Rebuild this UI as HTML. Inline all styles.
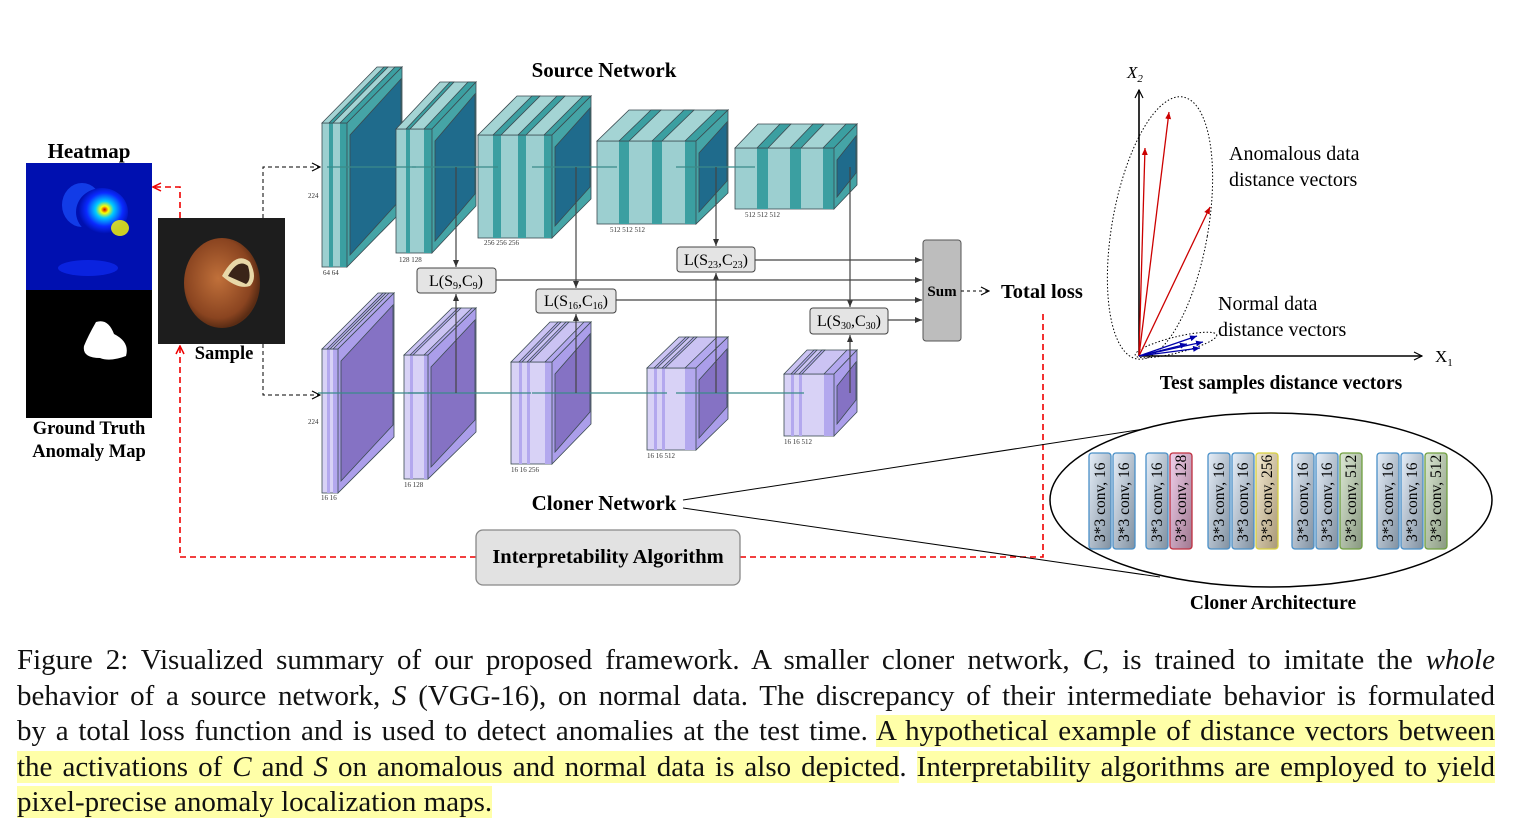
<!DOCTYPE html>
<html><head><meta charset="utf-8"><style>
body{margin:0;background:#fff;width:1515px;height:824px;overflow:hidden;position:relative;font-family:"Liberation Serif",serif}
#cap{position:absolute;left:17px;top:643px;width:1478px;font-size:29px;line-height:35.6px;color:#111}
#cap div{text-align:justify;text-align-last:justify;white-space:nowrap}
.h{background:#ffffa8}
</style></head><body>
<svg id="s" width="1515" height="640" style="position:absolute;left:0;top:0" font-family="Liberation Serif, serif">
<defs>
<radialGradient id="hm" cx="0.55" cy="0.45" r="0.5"><stop offset="0" stop-color="#c00"/><stop offset="0.15" stop-color="#ff0"/><stop offset="0.35" stop-color="#0cf"/><stop offset="0.7" stop-color="#0a2aff"/><stop offset="1" stop-color="#0010b0"/></radialGradient>
<radialGradient id="nut" cx="0.45" cy="0.45" r="0.55"><stop offset="0" stop-color="#c0703a"/><stop offset="0.8" stop-color="#8a4420"/><stop offset="1" stop-color="#5a2c14"/></radialGradient>
<linearGradient id="gb" x1="0" y1="0" x2="1" y2="1"><stop offset="0" stop-color="#e6eef8"/><stop offset="1" stop-color="#8090a0"/></linearGradient>
<linearGradient id="gr" x1="0" y1="0" x2="1" y2="1"><stop offset="0" stop-color="#f0d0ec"/><stop offset="1" stop-color="#a07890"/></linearGradient>
<linearGradient id="gy" x1="0" y1="0" x2="1" y2="1"><stop offset="0" stop-color="#f4ead0"/><stop offset="1" stop-color="#a89878"/></linearGradient>
<linearGradient id="gg" x1="0" y1="0" x2="1" y2="1"><stop offset="0" stop-color="#dce8d4"/><stop offset="1" stop-color="#889880"/></linearGradient>
<marker id="ak" markerWidth="10" markerHeight="10" refX="9" refY="5" orient="auto" markerUnits="userSpaceOnUse"><path d="M1,1 L9,5 L1,9" fill="none" stroke="#000" stroke-width="1.2"/></marker>
<marker id="ar" markerWidth="10" markerHeight="10" refX="9" refY="5" orient="auto" markerUnits="userSpaceOnUse"><path d="M1,1 L9,5 L1,9" fill="none" stroke="#e00" stroke-width="1.5"/></marker>
<marker id="as" markerWidth="8" markerHeight="8" refX="7" refY="4" orient="auto" markerUnits="userSpaceOnUse"><path d="M0,1 L7,4 L0,7z" fill="#333"/></marker>
<marker id="red" markerWidth="8" markerHeight="8" refX="7" refY="4" orient="auto" markerUnits="userSpaceOnUse"><path d="M0,1 L7,4 L0,7z" fill="#c00"/></marker>
<marker id="blu" markerWidth="8" markerHeight="8" refX="7" refY="4" orient="auto" markerUnits="userSpaceOnUse"><path d="M0,1 L7,4 L0,7z" fill="#00a"/></marker>
</defs>
<rect x="26" y="163" width="126" height="127" fill="#0010b0"/>
<ellipse cx="82" cy="205" rx="20" ry="22" fill="#1a50ff" opacity="0.7"/>
<ellipse cx="102" cy="212" rx="26" ry="24" fill="url(#hm)"/>
<ellipse cx="120" cy="228" rx="9" ry="8" fill="#ff0" opacity="0.8"/>
<ellipse cx="88" cy="268" rx="30" ry="8" fill="#1030ff" opacity="0.6"/>
<rect x="26" y="290" width="126" height="128" fill="#000"/>
<path d="M96,322 Q108,318 114,334 Q130,342 126,356 Q110,362 100,358 Q82,358 84,346 Q88,336 96,322z" fill="#fff"/>
<rect x="158" y="218" width="127" height="126" fill="#1d1d1d"/>
<ellipse cx="222" cy="283" rx="38" ry="45" fill="url(#nut)"/>
<path d="M222,276 Q236,250 250,262 Q258,278 250,286 Q238,290 222,276z" fill="#e8d8a8"/>
<path d="M228,276 Q238,258 248,266 Q252,280 246,284z" fill="#3a2418"/>
<g font-weight="bold" text-anchor="middle">
<text x="89" y="158" font-size="21">Heatmap</text>
<text x="89" y="434" font-size="18.5">Ground Truth</text>
<text x="89" y="457" font-size="18.5">Anomaly Map</text>
<text x="224" y="359" font-size="18.5">Sample</text>
<text x="604" y="77" font-size="21">Source Network</text>
<text x="604" y="510" font-size="21">Cloner Network</text>
</g>
<path d="M263,218 V167 H320" fill="none" stroke="#000" stroke-dasharray="4,3" marker-end="url(#ak)"/>
<path d="M263,344 V395 H320" fill="none" stroke="#000" stroke-dasharray="4,3" marker-end="url(#ak)"/>
<path d="M180,218 V187 H153" fill="none" stroke="#e00" stroke-width="1.6" stroke-dasharray="6,4" marker-end="url(#ar)"/>
<path d="M476,557 H180 V346" fill="none" stroke="#e00" stroke-width="1.6" stroke-dasharray="6,4" marker-end="url(#ar)"/>
<path d="M740,557 H1043 V310" fill="none" stroke="#e00" stroke-width="1.6" stroke-dasharray="6,4"/>
<rect x="476" y="530" width="264" height="55" rx="7" fill="#e2e2e2" stroke="#888" stroke-width="1.3"/>
<text x="608" y="563" font-size="20.5" font-weight="bold" text-anchor="middle">Interpretability Algorithm</text>
<g id="blocks"></g>
<g stroke="#444" stroke-width="1.2" fill="none">
<path d="M456,167 V267" marker-end="url(#as)"/><path d="M456,393 V294" marker-end="url(#as)"/>
<path d="M576,167 V288" marker-end="url(#as)"/><path d="M576,393 V314" marker-end="url(#as)"/>
<path d="M716,167 V246" marker-end="url(#as)"/><path d="M716,393 V273" marker-end="url(#as)"/>
<path d="M850,167 V307" marker-end="url(#as)"/><path d="M850,393 V335" marker-end="url(#as)"/>
<path d="M755,260 H922" marker-end="url(#as)"/><path d="M496,280 H922" marker-end="url(#as)"/>
<path d="M616,300 H922" marker-end="url(#as)"/><path d="M888,320 H922" marker-end="url(#as)"/>
</g>
<g font-size="16" text-anchor="middle">
<rect x="417" y="268" width="79" height="25" rx="3" fill="#e4e4e4" stroke="#444"/><text x="456" y="286">L(S<tspan font-size="10" dy="3">9</tspan><tspan dy="-3">,C</tspan><tspan font-size="10" dy="3">9</tspan><tspan dy="-3">)</tspan></text>
<rect x="536" y="289" width="80" height="24" rx="3" fill="#e4e4e4" stroke="#444"/><text x="576" y="306">L(S<tspan font-size="10" dy="3">16</tspan><tspan dy="-3">,C</tspan><tspan font-size="10" dy="3">16</tspan><tspan dy="-3">)</tspan></text>
<rect x="677" y="247" width="78" height="25" rx="3" fill="#e4e4e4" stroke="#444"/><text x="716" y="265">L(S<tspan font-size="10" dy="3">23</tspan><tspan dy="-3">,C</tspan><tspan font-size="10" dy="3">23</tspan><tspan dy="-3">)</tspan></text>
<rect x="810" y="308" width="78" height="26" rx="3" fill="#e4e4e4" stroke="#444"/><text x="849" y="326">L(S<tspan font-size="10" dy="3">30</tspan><tspan dy="-3">,C</tspan><tspan font-size="10" dy="3">30</tspan><tspan dy="-3">)</tspan></text>
</g>
<rect x="923" y="240" width="38" height="101" rx="3" fill="#bdbdbd" stroke="#555"/>
<text x="942" y="296" font-size="15" font-weight="bold" text-anchor="middle">Sum</text>
<path d="M961,291 H989" stroke="#000" stroke-dasharray="3,3" marker-end="url(#ak)"/>
<text x="1001" y="298" font-size="20.5" font-weight="bold">Total loss</text>
<path d="M1139,356 V90" stroke="#000" stroke-width="1.6" marker-end="url(#ak)"/>
<path d="M1139,356 H1422" stroke="#000" stroke-width="1.6" marker-end="url(#ak)"/>
<text x="1127" y="78" font-size="17" font-style="italic">X<tspan font-size="11" dy="4">2</tspan></text>
<text x="1435" y="362" font-size="17">X<tspan font-size="11" dy="4">1</tspan></text>
<ellipse cx="1160" cy="228" rx="48" ry="133" transform="rotate(10 1160 228)" fill="none" stroke="#000" stroke-dasharray="1.5,2"/>
<ellipse cx="1176" cy="345" rx="42" ry="8" transform="rotate(-14 1176 345)" fill="none" stroke="#000" stroke-dasharray="1.5,2"/>
<g stroke="#c00" stroke-width="1.3"><path d="M1139,356 L1145,148" marker-end="url(#red)"/><path d="M1139,356 L1169,112" marker-end="url(#red)"/><path d="M1139,356 L1210,207" marker-end="url(#red)"/></g>
<g stroke="#00a" stroke-width="1.3"><path d="M1139,356 L1197,336" marker-end="url(#blu)"/><path d="M1139,356 L1203,342" marker-end="url(#blu)"/><path d="M1139,356 L1200,348" marker-end="url(#blu)"/><path d="M1139,356 L1187,344" marker-end="url(#blu)"/></g>
<g font-size="20"><text x="1229" y="160">Anomalous data</text><text x="1229" y="186">distance vectors</text>
<text x="1218" y="310">Normal data</text><text x="1218" y="336">distance vectors</text></g>
<text x="1281" y="389" font-size="19.5" font-weight="bold" text-anchor="middle">Test samples distance vectors</text>
<path d="M683,500 L1170,425 M683,508 L1160,577" stroke="#000" stroke-width="1"/>
<ellipse cx="1271" cy="500" rx="221" ry="87" fill="#fff" stroke="#000" stroke-width="1.5"/>
<g id="conv" font-size="15.5" font-family="Liberation Serif, serif"></g>
<text x="1273" y="609" font-size="19.5" font-weight="bold" text-anchor="middle">Cloner Architecture</text>
<g font-size="7" fill="#333"><text x="308" y="198">224</text><text x="323" y="275">64 64</text><text x="399" y="262">128 128</text><text x="484" y="245">256 256 256</text><text x="610" y="232">512 512 512</text><text x="745" y="217">512 512 512</text>
<text x="308" y="424">224</text><text x="321" y="500">16 16</text><text x="404" y="487">16 128</text><text x="511" y="472">16 16 256</text><text x="647" y="458">16 16 512</text><text x="784" y="444">16 16 512</text></g>
</svg>
<div id="cap">
<div>Figure 2: Visualized summary of our proposed framework. A smaller cloner network, <i>C</i>, is trained to imitate the <i>whole</i></div>
<div>behavior of a source network, <i>S</i> (VGG-16), on normal data. The discrepancy of their intermediate behavior is formulated</div>
<div>by a total loss function and is used to detect anomalies at the test time. <span class="h">A hypothetical example of distance vectors between</span></div>
<div><span class="h">the activations of <i>C</i> and <i>S</i> on anomalous and normal data is also depicted</span>. <span class="h">Interpretability algorithms are employed to yield</span></div>
<div style="text-align-last:left"><span class="h">pixel-precise anomaly localization maps.</span></div>
</div>
<script>
var NS="http://www.w3.org/2000/svg",B=document.getElementById("blocks");
function el(t,a,p){var e=document.createElementNS(NS,t);for(var k in a)e.setAttribute(k,a[k]);(p||B).appendChild(e);return e}
function poly(pts,f){el("polygon",{points:pts.map(function(p){return p.join(",")}).join(" "),fill:f,stroke:"#3a4a50","stroke-width":0.8})}
function prism(x,y,w,h,dx,dy,c,stripes){
 el("rect",{x:x,y:y,width:w,height:h,fill:c[0],stroke:"#3a4a50","stroke-width":0.8});
 stripes.forEach(function(s){el("rect",{x:x+s[0],y:y,width:s[1],height:h,fill:c[1]});});
 poly([[x,y],[x+dx,y+dy],[x+w+dx,y+dy],[x+w,y]],c[2]);
 stripes.forEach(function(s){poly([[x+s[0],y],[x+s[0]+dx,y+dy],[x+s[0]+s[1]+dx,y+dy],[x+s[0]+s[1],y]],c[1]);});
 poly([[x+w,y],[x+w+dx,y+dy],[x+w+dx,y+h+dy],[x+w,y+h]],c[3]);
 poly([[x+w+3,y+12],[x+w+dx-1,y+dy+12],[x+w+dx-1,y+h+dy-12],[x+w+3,y+h-12]],c[4]);
}
var T=["#9ccfd0","#3b9fa1","#a4d4d4","#45a4a6","#1f6b8c"],P=["#d8d2f6","#b3a8ee","#cbc3f3","#ab9eea","#8572c4"];
prism(322,123,25,144,55,-56,T,[[7,4],[18,7]]);
prism(396,129,36,124,44,-47,T,[[10,4],[28,8]]);
prism(478,135,74,103,39,-39,T,[[15,8],[40,8],[66,8]]);
prism(597,141,99,83,32,-31,T,[[22,10],[55,10],[88,11]]);
prism(735,148,99,61,23,-24,T,[[22,11],[55,11],[88,11]]);
prism(322,349,16,144,56,-56,P,[[5,3],[11,5]]);
prism(404,355,24,124,48,-47,P,[[6,3],[20,4]]);
prism(511,362,41,102,39,-40,P,[[8,3],[16,3],[34,7]]);
prism(647,368,49,82,32,-31,P,[[7,3],[15,3],[38,11]]);
prism(784,374,50,62,23,-24,P,[[7,3],[15,3],[40,10]]);
var sl=[[347,167,396],[432,167,478],[552,167,597],[696,167,735],[338,393,404],[428,393,511],[552,393,647],[696,393,784]];
sl.forEach(function(l){el("line",{x1:l[0]-20,y1:l[1],x2:l[2]+20,y2:l[1],stroke:"#3a8a8a","stroke-width":1.2})});
var C=document.getElementById("conv");
var xs=[1089,1113,1146,1170,1208,1232,1256,1292,1316,1340,1377,1401,1425],
 lb=["16","16","16","128","16","16","256","16","16","512","16","16","512"],
 st={"16":["url(#gb)","#4a90c8"],"128":["url(#gr)","#c03040"],"256":["url(#gy)","#d8d040"],"512":["url(#gg)","#70a040"]};
xs.forEach(function(x,i){var s=st[lb[i]];el("rect",{x:x,y:453,width:22,height:96,rx:3,fill:s[0],stroke:s[1],"stroke-width":1.3},C);
 var t=el("text",{x:0,y:0,transform:"translate("+(x+16)+",542) rotate(-90)"},C);t.textContent="3*3 conv, "+lb[i];});
</script>
</body></html>
